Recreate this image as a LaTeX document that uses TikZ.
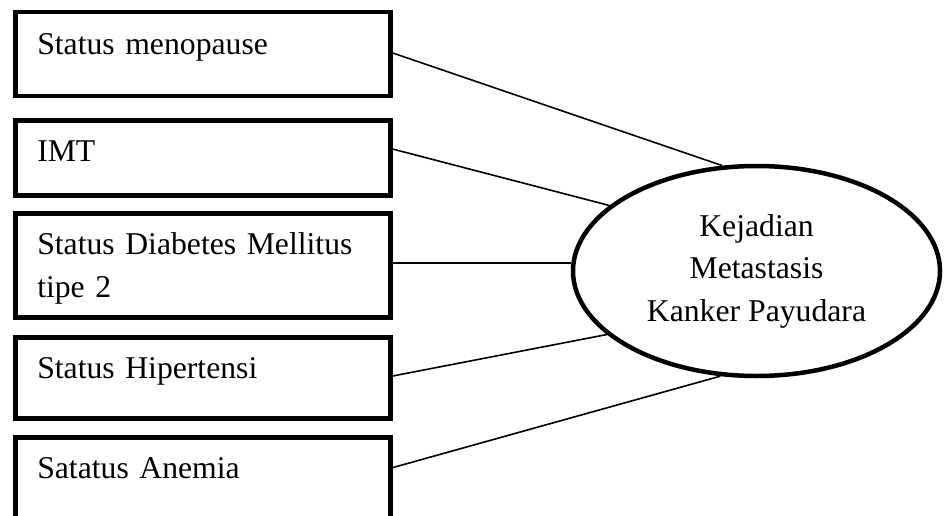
\documentclass[tikz,border=0pt]{standalone}
\usepackage{fontspec}
\setmainfont{Liberation Serif}
\usetikzlibrary{shapes.geometric,calc}
\tikzset{
  varbox/.style={draw, line width=4.5pt, anchor=north west, inner xsep=22pt, inner ysep=0pt,
    text width=331pt, align=left, font=\fontsize{31.7}{43}\selectfont},
  outcome/.style={draw, ellipse, line width=4.5pt, minimum width=367pt, minimum height=210pt,
    inner sep=0pt, align=center, font=\fontsize{31.7}{42.5}\selectfont},
  link/.style={line width=1.6pt}
}
\begin{document}
\begin{tikzpicture}[x=1pt,y=-1pt]
\useasboundingbox (0,0) rectangle (944,516);
\begin{scope}
\clip (0,0) rectangle (944,516);
\node[varbox, text height=42pt, text depth=42pt] (b1) at (13,10) {Status menopause};
\node[varbox, text height=41pt, text depth=34pt] (b2) at (13,118) {IMT};
\node[varbox, text height=41pt, text depth=63pt] (b3) at (13,211) {Status Diabetes Mellitus\\tipe 2};
\node[varbox, text height=41pt, text depth=40pt] (b4) at (13,335) {Status Hipertensi};
\node[varbox, text height=41pt, text depth=44pt] (b5) at (13,435) {Satatus Anemia};
\node[outcome] (e) at (756.5,271) {Kejadian\\Metastasis\\Kanker Payudara};
\coordinate (s3) at ($(b3.north east)!0.48!(b3.south east)$);
\draw[link] ($(b1.north east)!0.485!(b1.south east)$) -- (e.108.8);
\draw[link] ($(b2.north east)!0.39!(b2.south east)$) -- (e.156.4);
\draw[link] (s3) -- (s3 -| e.west);
\draw[link] ($(b4.north east)!0.48!(b4.south east)$) -- (e.203.6);
\draw[link] ($(b5.north east)!0.365!(b5.south east)$) -- (e.251.6);
\end{scope}
\end{tikzpicture}
\end{document}
